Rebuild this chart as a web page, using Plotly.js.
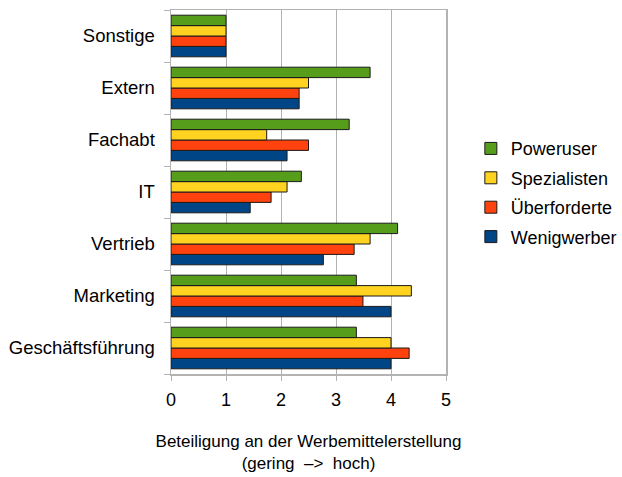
<!DOCTYPE html>
<html><head><meta charset="utf-8">
<script src="https://cdn.plot.ly/plotly-3.0.1.min.js"></script>
<style>html,body{margin:0;padding:0;background:#fff}</style>
</head><body><div id="chart" style="width:622px;height:477px"></div>
<script>
const categories = ["Geschäftsführung","Marketing","Vertrieb","IT","Fachabt","Extern","Sonstige"];
const poweruser    = [3.37, 3.37, 4.12, 2.37, 3.24, 3.62, 1.0];
const spezialisten = [4.0, 4.37, 3.62, 2.11, 1.74, 2.50, 1.0];
const ueberforderte= [4.33, 3.49, 3.33, 1.82, 2.50, 2.33, 1.0];
const wenigwerber  = [4.0, 4.0, 2.77, 1.44, 2.11, 2.33, 1.0];
const xTicks = [0,1,2,3,4,5];

const mk = (name, vals, color, rank) => ({
  type:'bar', orientation:'h', name:name, x:vals, y:categories, legendgroup:name, legendrank:rank,
  marker:{color:color, line:{color:'#1a1a1a', width:1}}
});
const data = [
  mk('Wenigwerber', wenigwerber, '#004586', 4),
  mk('Überforderte', ueberforderte, '#ff420e', 3),
  mk('Spezialisten', spezialisten, '#ffd320', 2),
  mk('Poweruser', poweruser, '#579d1c', 1)
];
const font = {family:'Liberation Sans, Arial, sans-serif', size:18, color:'#000'};
const layout = {
  width:622, height:477,
  margin:{l:171, r:176, t:10, b:103},
  barmode:'group', bargap:0.2, bargroupgap:0,
  font:font,
  paper_bgcolor:'#fff', plot_bgcolor:'#fff',
  xaxis:{range:[0,5], tickvals:xTicks, ticktext:xTicks.map(String),
    showgrid:true, gridcolor:'#b3b3b3', gridwidth:1,
    showline:true, mirror:true, linecolor:'#b3b3b3', linewidth:1.5,
    ticks:'outside', ticklen:5, tickcolor:'#b3b3b3', zeroline:false,
    tickfont:{size:18}, ticklabelstandoff:4,
    title:{text:'Beteiligung an der Werbemittelerstellung<br>(gering  –>  hoch)', font:{size:17}, standoff:26}},
  yaxis:{type:'category', categoryorder:'array', categoryarray:categories,
    showline:true, mirror:true, linecolor:'#b3b3b3', linewidth:1.5,
    ticks:'outside', ticklen:6, tickcolor:'#b3b3b3', tickson:'boundaries',
    showgrid:false, tickfont:{size:18.5}, ticklabelstandoff:11},
  legend:{xref:'container', yref:'container', x:0.757, xanchor:'left', y:0.596, yanchor:'middle',
    traceorder:'grouped', tracegroupgap:3,
    font:{size:18}, itemwidth:30, bgcolor:'rgba(0,0,0,0)'},
  showlegend:true
};
Plotly.newPlot('chart', data, layout, {displayModeBar:false, staticPlot:true});
</script></body></html>
